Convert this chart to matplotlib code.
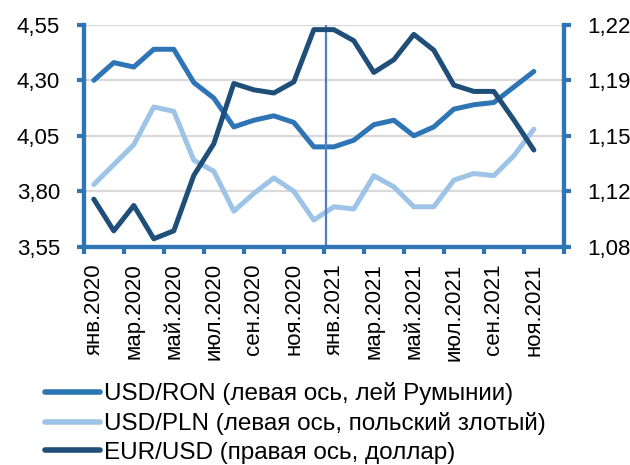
import numpy as np
import matplotlib
matplotlib.use('Agg')
import matplotlib.pyplot as plt

plt.rcParams['font.family'] = ['Liberation Sans', 'DejaVu Sans']

months = ['янв', 'фев', 'мар', 'апр', 'май', 'июн', 'июл', 'авг', 'сен', 'окт', 'ноя', 'дек']
categories = [f'{m}.{y}' for y in (2020, 2021) for m in months]  # 24 slots, last one empty

usd_ron = [4.30, 4.38, 4.36, 4.44, 4.44, 4.29, 4.22, 4.09, 4.12, 4.14, 4.11, 4.00,
           4.00, 4.03, 4.10, 4.12, 4.05, 4.09, 4.17, 4.19, 4.20, 4.27, 4.34]
usd_pln = [3.83, 3.92, 4.01, 4.18, 4.16, 3.94, 3.89, 3.71, 3.79, 3.86, 3.80, 3.67,
           3.73, 3.72, 3.87, 3.82, 3.73, 3.73, 3.85, 3.88, 3.87, 3.96, 4.08]
eur_usd = [1.110, 1.090, 1.106, 1.085, 1.090, 1.125, 1.145, 1.183, 1.179, 1.177, 1.184, 1.217,
           1.217, 1.210, 1.190, 1.198, 1.214, 1.204, 1.182, 1.178, 1.178, 1.160, 1.141]

left_ticks = [3.55, 3.80, 4.05, 4.30, 4.55]
right_ticks = list(np.linspace(1.08, 1.22, 5))
right_ticklabels = ['1,08', '1,12', '1,15', '1,19', '1,22']

c_ron = '#2E75B6'
c_pln = '#9DC3E6'
c_eur = '#1F4E79'
c_axis = '#2E75B6'

fig = plt.figure(figsize=(6.3, 4.65), dpi=100)
ax = fig.add_axes([0.133, 0.4695, 0.762, 0.477])
ax2 = ax.twinx()

x = np.arange(len(usd_ron))
l1, = ax.plot(x, usd_ron, color=c_ron, lw=3.6, solid_capstyle='round', label='USD/RON (левая ось, лей Румынии)')
l2, = ax.plot(x, usd_pln, color=c_pln, lw=3.6, solid_capstyle='round', label='USD/PLN (левая ось, польский злотый)')
l3, = ax2.plot(x, eur_usd, color=c_eur, lw=3.6, solid_capstyle='round', label='EUR/USD (правая ось, доллар)')

ax.axvline(11.6, color='#4F7FC0', lw=1.6, zorder=5)

ax.set_xlim(-0.5, len(categories) - 0.5)
ax.set_ylim(3.55, 4.55)
ax2.set_ylim(1.08, 1.22)

ax.set_yticks(left_ticks)
ax.set_yticklabels([f'{v:.2f}'.replace('.', ',') for v in left_ticks])
ax2.set_yticks(right_ticks)
ax2.set_yticklabels(right_ticklabels)

ax.set_xticks(np.arange(0, len(categories), 2))
ax.set_xticklabels(categories[::2], rotation=90)
ax.set_xticks(np.arange(-0.5, len(categories), 2), minor=True)

ax.grid(axis='y', color='#D9D9D9', lw=1.6)
ax.set_axisbelow(True)

for a in (ax, ax2):
    a.spines['top'].set_visible(False)
    for s in ('left', 'right', 'bottom'):
        a.spines[s].set_color(c_axis)
        a.spines[s].set_linewidth(3)

ax.tick_params(axis='y', which='major', length=5, width=3, color=c_axis, labelsize=16, pad=12)
ax2.tick_params(axis='y', which='major', length=5, width=3, color=c_axis, labelsize=16, pad=12)
ax.tick_params(axis='x', which='major', length=0, labelsize=16, pad=12)
ax.tick_params(axis='x', which='minor', length=5, width=3, color=c_axis)

leg = fig.legend(handles=[l1, l2, l3], loc='upper left', bbox_to_anchor=(0.0714, 0.178),
                 frameon=False, fontsize=17.5, handlelength=2.26, handletextpad=0.16,
                 labelspacing=0.28, borderpad=0, borderaxespad=0)
for h in leg.legend_handles:
    h.set_linewidth(4)

fig.savefig('out.png', dpi=100)
